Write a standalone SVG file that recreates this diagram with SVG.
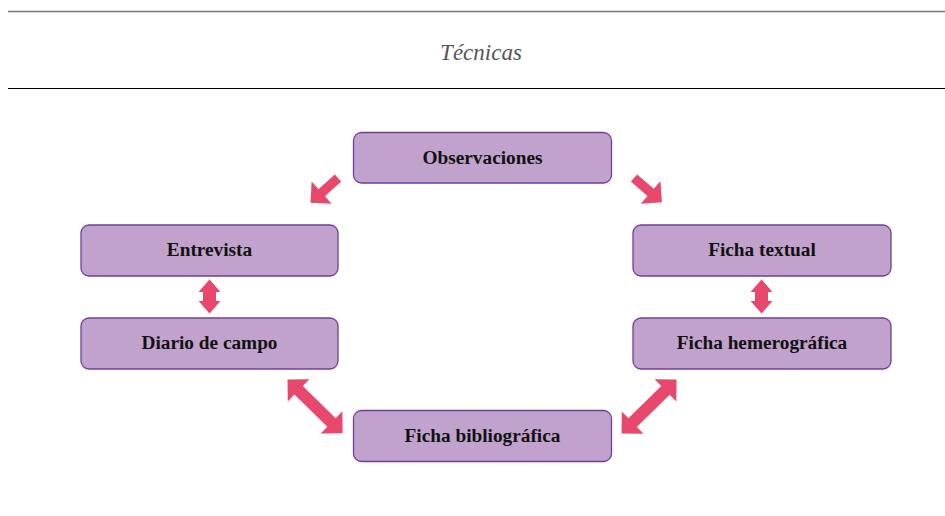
<svg xmlns="http://www.w3.org/2000/svg" width="945" height="516" viewBox="0 0 945 516">
<style>
.box{fill:#C1A2CD;stroke:#6E3F97;stroke-width:1.3}
.lbl{font-family:"Liberation Serif","Times New Roman",serif;font-weight:bold;font-size:19.3px;fill:#111;text-anchor:middle}
.arr{fill:#E8486C}
.title{font-family:"Liberation Serif","Times New Roman",serif;font-style:italic;font-size:23px;fill:#555;text-anchor:middle}
</style>
<defs>
<polygon id="single" points="0,-4.8 22,-4.8 22,-15 37,0 22,15 22,4.8 0,4.8"/>
<polygon id="dblV" points="0,0 11,12.5 6.5,12.5 6.5,21.5 11,21.5 0,34 -11,21.5 -6.5,21.5 -6.5,12.5 -11,12.5"/>
<polygon id="dblD" points="0,0 15.5,-15.5 15.5,-6 61.5,-6 61.5,-15.5 77,0 61.5,15.5 61.5,6 15.5,6 15.5,15.5"/>
</defs>
<rect width="945" height="516" fill="#fff"/>
<g id="header">
<line x1="8" y1="11.5" x2="945" y2="11.5" stroke="#777" stroke-width="1.6"/>
<text class="title" x="481" y="60">Técnicas</text>
<line x1="8" y1="88.5" x2="945" y2="88.5" stroke="#000" stroke-width="1.2"/>
</g>
<g id="connectors" class="arr">
<use href="#single" transform="translate(338,178) rotate(138)"/>
<use href="#single" transform="translate(634,178) rotate(41)"/>
<use href="#dblV" transform="translate(209.5,279.5)"/>
<use href="#dblV" transform="translate(761.5,279.5)"/>
<use href="#dblD" transform="translate(287.5,379.5) rotate(44.3)"/>
<use href="#dblD" transform="translate(676.5,379.5) rotate(135.5)"/>
</g>
<g id="observaciones">
<rect class="box" x="353.5" y="132.5" width="258" height="50.5" rx="8"/>
<text class="lbl" x="482.5" y="163.5">Observaciones</text>
</g>
<g id="entrevista">
<rect class="box" x="81" y="225" width="257" height="51" rx="8"/>
<text class="lbl" x="209.5" y="256">Entrevista</text>
</g>
<g id="diario">
<rect class="box" x="81" y="318" width="257" height="51" rx="8"/>
<text class="lbl" x="209.5" y="349">Diario de campo</text>
</g>
<g id="fichatextual">
<rect class="box" x="633" y="225" width="258" height="51" rx="8"/>
<text class="lbl" x="762" y="256">Ficha textual</text>
</g>
<g id="fichahemerografica">
<rect class="box" x="633" y="318" width="258" height="51" rx="8"/>
<text class="lbl" x="762" y="349">Ficha hemerográfica</text>
</g>
<g id="fichabibliografica">
<rect class="box" x="353.5" y="410.5" width="258" height="51" rx="8"/>
<text class="lbl" x="482.5" y="441.5">Ficha bibliográfica</text>
</g>
</svg>
